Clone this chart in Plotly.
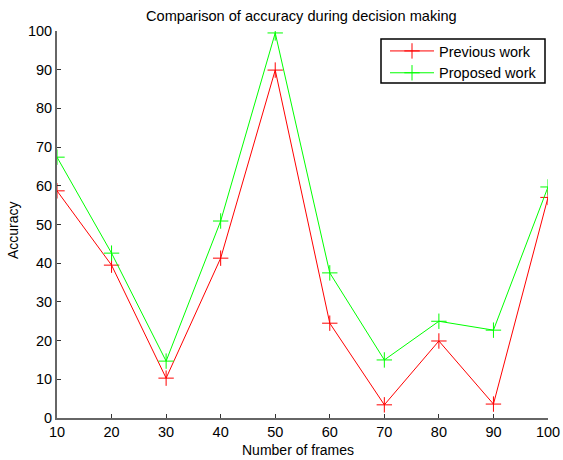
import plotly.graph_objects as go

frames = [10, 20, 30, 40, 50, 60, 70, 80, 90, 100]
previous_work = [58.7, 39.5, 10.3, 41.3, 89.9, 24.5, 3.4, 19.9, 3.6, 57.0]
proposed_work = [67.4, 42.6, 14.7, 50.9, 99.5, 37.5, 15.0, 25.0, 22.7, 59.7]
y_ticks = [0, 10, 20, 30, 40, 50, 60, 70, 80, 90, 100]

W, H = 563, 460
L, R, T, B = 57, 15, 31, 42
PW, PH = W - L - R, H - T - B


def px_x(p):
    return (p - L) / PW


def px_y(p):
    return 1 - (p - T) / PH


fig = go.Figure()
fig.add_trace(go.Scatter(x=frames, y=previous_work, mode="lines+markers", name="Previous work",
                         line=dict(color="#ff0000", width=1),
                         marker=dict(symbol="cross-thin-open", size=11, line=dict(color="#ff0000", width=1))))
fig.add_trace(go.Scatter(x=frames, y=proposed_work, mode="lines+markers", name="Proposed work",
                         line=dict(color="#00ff00", width=1),
                         marker=dict(symbol="cross-thin-open", size=11, line=dict(color="#00ff00", width=1))))

font = "Liberation Sans, Arial, sans-serif"
fig.update_layout(
    width=W, height=H,
    margin=dict(l=L, r=R, t=T, b=B, autoexpand=False),
    paper_bgcolor="white", plot_bgcolor="white",
    font=dict(family=font, size=14, color="#000000"),
    showlegend=True,
    legend=dict(x=px_x(385), y=px_y(35), xanchor="left", yanchor="top",
                borderwidth=0, bgcolor="rgba(0,0,0,0)", itemwidth=44,
                font=dict(family=font, size=14.5), tracegroupgap=0),
    xaxis=dict(range=[10, 100], tickmode="array", tickvals=frames, ticks="inside", ticklen=4,
               tickcolor="#333333", showline=True, linecolor="#666666", linewidth=2,
               showgrid=False, zeroline=False, tickfont=dict(size=14.5), automargin=False),
    yaxis=dict(range=[0, 100], tickmode="array", tickvals=y_ticks, ticks="inside", ticklen=4,
               tickcolor="#333333", showline=True, linecolor="#666666", linewidth=2,
               showgrid=False, zeroline=False, tickfont=dict(size=14.5), automargin=False),
)
# legend frame
fig.add_shape(type="rect", xref="paper", yref="paper",
              x0=px_x(381), x1=px_x(545), y0=px_y(83), y1=px_y(39),
              line=dict(color="#000000", width=1.5), fillcolor="white", layer="below")
cx = (301 - L) / PW
fig.add_annotation(text="Comparison of accuracy during decision making", xref="paper", yref="paper",
                   x=cx, y=px_y(16), xanchor="center", yanchor="middle",
                   showarrow=False, font=dict(size=14.6))
fig.add_annotation(text="Number of frames", xref="paper", yref="paper",
                   x=px_x(298), y=px_y(450), xanchor="center", yanchor="middle",
                   showarrow=False, font=dict(size=14))
fig.add_annotation(text="Accuracy", xref="paper", yref="paper", textangle=-90,
                   x=px_x(13), y=px_y(230), xanchor="center", yanchor="middle",
                   showarrow=False, font=dict(size=14))
fig.write_html("out.html", config={"displayModeBar": False},
               post_script="document.body.style.margin='0';document.body.style.overflow='hidden';"
                           "window.dispatchEvent(new Event('resize'));")
